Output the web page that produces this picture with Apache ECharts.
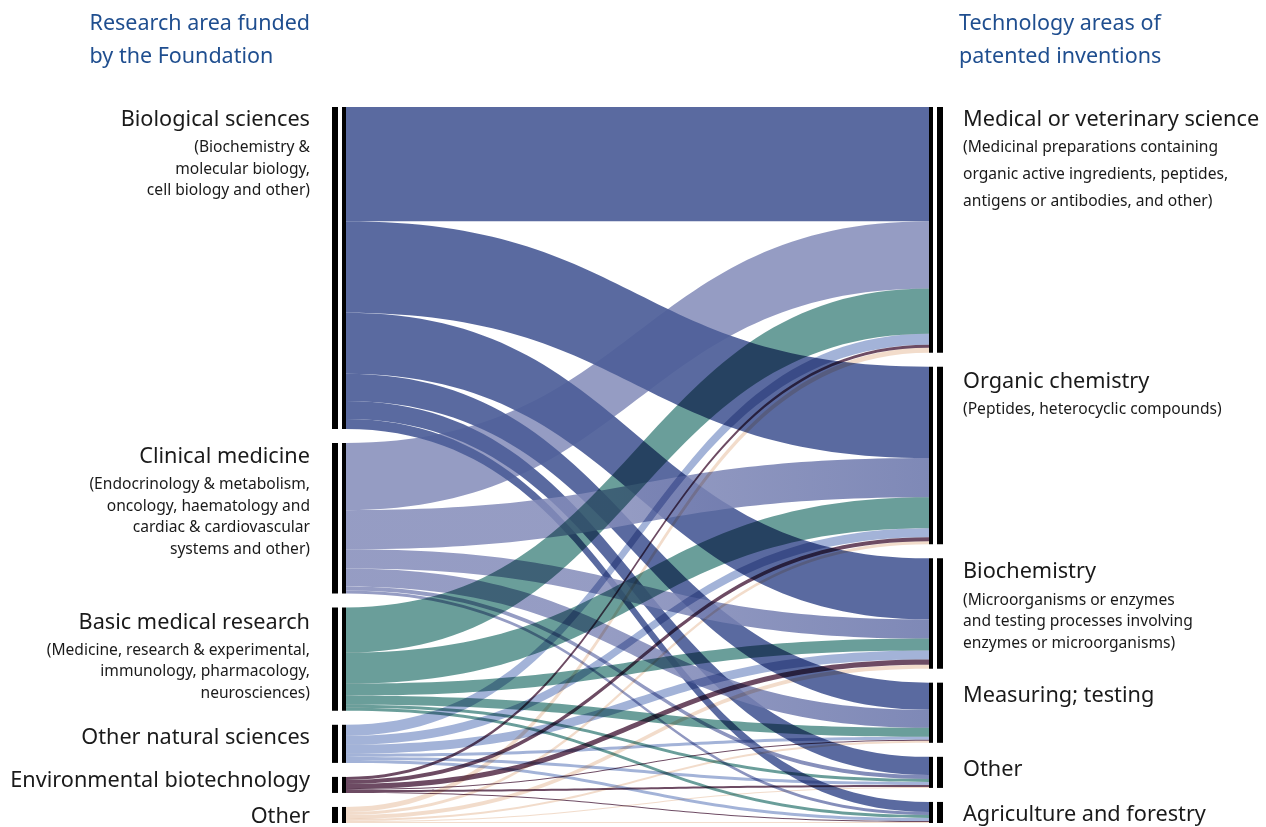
<!DOCTYPE html>
<html><head><meta charset="utf-8">
<script src="https://cdn.jsdelivr.net/npm/echarts@6/dist/echarts.min.js"></script>
<style>html,body{margin:0;padding:0;background:#fff}#c{width:1266px;height:827px}</style>
</head><body><div id="c"></div>
<script>
// ---- data ----
const sources = ['Biological sciences','Clinical medicine','Basic medical research','Other natural sciences','Environmental biotechnology','Other'];
const sourceNotes = [
  ['(Biochemistry &','molecular biology,','cell biology and other)'],
  ['(Endocrinology & metabolism,','oncology, haematology and','cardiac & cardiovascular','systems and other)'],
  ['(Medicine, research & experimental,','immunology, pharmacology,','neurosciences)'],
  [], [], []
];
const targets = ['Medical or veterinary science','Organic chemistry','Biochemistry','Measuring; testing','Other','Agriculture and forestry'];
const targetNotes = [
  ['(Medicinal preparations containing','organic active ingredients, peptides,','antigens or antibodies, and other)'],
  ['(Peptides, heterocyclic compounds)'],
  ['(Microorganisms or enzymes','and testing processes involving','enzymes or microorganisms)'],
  [], [], []
];
// flows from each source to targets (in target order)
const flowBiological = [114, 91, 61, 27, 18, 10];
const flowClinical   = [67, 39, 19, 18, 4, 3];
const flowBasic      = [45, 31, 12, 9, 3, 3];
const flowOtherNat   = [11, 9, 9, 3, 3, 3];
const flowEnviron    = [3, 4, 5, 1, 2, 1];
const flowOtherSrc   = [5, 3, 4, 2, 1, 1];
const flows = [flowBiological, flowClinical, flowBasic, flowOtherNat, flowEnviron, flowOtherSrc];
const headerLeft = ['Research area funded', 'by the Foundation'];
const headerRight = ['Technology areas of', 'patented inventions'];

// ---- styles ----
const FONT = '"Noto Sans", "Open Sans", sans-serif';
// colours of the flows, by source; first two drawn normally, the rest multiplied on top
const sourceColors = ['rgba(78,95,153,0.93)', 'rgba(131,139,185,0.85)', '#6a9e9a', '#a3b3d8', '#6d4b63', '#f2dccb'];
const clinicalEnd = 'rgba(104,116,170,0.85)';
const multiplyLayer = [false, false, true, true, true, true];
const srcLabelDy = [-4, -3, -2, -4, -13, -7];
const srcTitleLH = [34, 34, 34, 34, 34, 34];
const srcSubLH = [21.5, 21.5, 21.5, 21.5, 21.5, 21.5];
const tgtLabelDy = [-2, 0, -3, -2, -2, -2];
const tgtTitleLH = [29, 30, 34, 30, 30, 30];
const tgtSubLH = [27, 26, 21.5, 21, 21, 21];
const CLEAR = 'rgba(0,0,0,0)';

const leftBar = new echarts.graphic.LinearGradient(0, 0, 1, 0, [
  {offset: 0, color: '#000'}, {offset: 6/14, color: '#000'},
  {offset: 6/14, color: '#fff'}, {offset: 10/14, color: '#fff'},
  {offset: 10/14, color: '#000'}, {offset: 1, color: '#000'}
]);
const rightBar = new echarts.graphic.LinearGradient(0, 0, 1, 0, [
  {offset: 0, color: '#000'}, {offset: 4/14, color: '#000'},
  {offset: 4/14, color: '#fff'}, {offset: 8/14, color: '#fff'},
  {offset: 8/14, color: '#000'}, {offset: 1, color: '#000'}
]);

function makeLabel(title, notes, left, dy, tlh, slh) {
  let text = '{t|' + title + '}';
  notes.forEach(n => { text += '\n{s|' + n + '}'; });
  return {
    show: true,
    position: left ? [-22, dy] : [34, dy],
    align: left ? 'right' : 'left',
    verticalAlign: 'top',
    formatter: text,
    rich: {
      t: {fontSize: 21.7, lineHeight: tlh, color: '#1a1a1a', fontFamily: FONT},
      s: {fontSize: 15.6, lineHeight: slh, color: '#1a1a1a', fontFamily: FONT}
    }
  };
}

function buildNodes(visible) {
  const nodes = [];
  sources.forEach((s, i) => nodes.push({
    name: 'L:' + s,
    itemStyle: {color: visible ? leftBar : CLEAR, borderWidth: 0},
    label: visible ? makeLabel(s, sourceNotes[i], true, srcLabelDy[i], srcTitleLH[i], srcSubLH[i]) : {show: false}
  }));
  targets.forEach((t, i) => nodes.push({
    name: 'R:' + t,
    itemStyle: {color: visible ? rightBar : CLEAR, borderWidth: 0},
    label: visible ? makeLabel(t, targetNotes[i], false, tgtLabelDy[i], tgtTitleLH[i], tgtSubLH[i]) : {show: false}
  }));
  return nodes;
}
// painting order of the normally blended flows: clinical->medical underneath,
// then the biological flows, then the remaining clinical flows
function paintRank(si, ti) {
  if (si === 1 && ti === 0) return 0;
  if (si === 0) return 1;
  if (si === 1) return 2;
  return 3;
}
function buildLinks(multiply) {
  const links = [];
  flows.forEach((row, si) => row.forEach((v, ti) => {
    let color = CLEAR;
    if (multiplyLayer[si] === multiply) {
      color = sourceColors[si];
      if (si === 1 && ti > 0) {
        color = new echarts.graphic.LinearGradient(0, 0, 1, 0, [
          {offset: 0, color: sourceColors[si]}, {offset: 0.45, color: sourceColors[si]},
          {offset: 1, color: clinicalEnd}
        ]);
      }
    }
    links.push({rank: paintRank(si, ti), item: {source: 'L:' + sources[si], target: 'R:' + targets[ti], value: v,
      lineStyle: {color: color, opacity: 1}}});
  }));
  links.sort((a, b) => a.rank - b.rank);
  return links.map(l => l.item);
}

const base = {
  type: 'sankey',
  left: 332, right: 323, top: 107, bottom: 4,
  nodeWidth: 14, nodeGap: 14,
  layoutIterations: 0,
  draggable: false,
  emphasis: {disabled: true},
  lineStyle: {opacity: 1, curveness: 0.5}
};

const chart = echarts.init(document.getElementById('c'), null, {renderer: 'canvas'});
chart.setOption({
  animation: false,
  backgroundColor: '#fff',
  graphic: [
    {type: 'text', right: 1266 - 310, top: 7, style: {text: headerLeft.join('\n'), align: 'right', fill: '#1f4e8f', font: '21.5px ' + FONT, lineHeight: 33}},
    {type: 'text', left: 959, top: 7, style: {text: headerRight.join('\n'), align: 'left', fill: '#1f4e8f', font: '21.5px ' + FONT, lineHeight: 33}}
  ],
  series: [
    Object.assign({}, base, {z: 2, data: buildNodes(false), links: buildLinks(false)}),
    Object.assign({}, base, {z: 3, blendMode: 'multiply', silent: true, data: buildNodes(false), links: buildLinks(true)}),
    Object.assign({}, base, {z: 4, data: buildNodes(true), links: buildLinks(null)})
  ]
});
</script></body></html>
